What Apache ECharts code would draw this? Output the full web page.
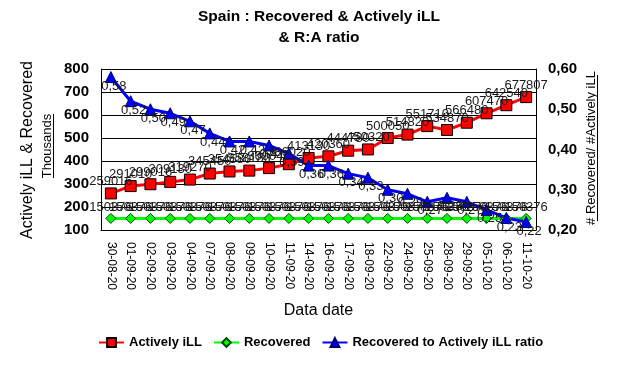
<!DOCTYPE html>
<html><head><meta charset="utf-8">
<script src="https://cdn.jsdelivr.net/npm/echarts@6/dist/echarts.min.js"></script>
<style>html,body{margin:0;padding:0;background:#fff}#c{width:625px;height:372px}</style>
</head><body><div id="c"></div>
<script>
const dates = ['30-08-20','01-09-20','02-09-20','03-09-20','04-09-20','07-09-20','08-09-20','09-09-20','10-09-20','11-09-20','14-09-20','16-09-20','17-09-20','18-09-20','22-09-20','24-09-20','25-09-20','28-09-20','29-09-20','05-10-20','06-10-20','11-10-20'];
const activelyIll = [259016, 291010, 299016, 309130, 319270, 345450, 354580, 358180, 369040, 386020, 413130, 420360, 444780, 450320, 500050, 514820, 551710, 534870, 566480, 607470, 642540, 677807];
const recovered = [150376,150376,150376,150376,150376,150376,150376,150376,150376,150376,150376,150376,150376,150376,150376,150376,150376,150376,150376,150376,150376,150376];
const ratio = [0.58, 0.52, 0.50, 0.49, 0.47, 0.44, 0.42, 0.42, 0.41, 0.39, 0.36, 0.36, 0.34, 0.33, 0.30, 0.29, 0.27, 0.28, 0.27, 0.25, 0.23, 0.22];
const leftMin = 100000, leftMax = 800000, leftStep = 100000;
const rightMin = 0.2, rightMax = 0.6, rightStep = 0.1;

const FF = 'Liberation Sans, Arial, Helvetica, sans-serif';
const chart = echarts.init(document.getElementById('c'), null, {renderer: 'canvas'});
const lblStyle = {fontFamily: FF, fontSize: 13, color: '#1a1a1a'};
chart.setOption({
  animation: false,
  backgroundColor: '#fff',
  graphic: [
    {type: 'text', x: 319, y: 17,
      style: {text: 'Spain : Recovered & Actively iLL', fontFamily: FF, fontSize: 15.5, fontWeight: 'bold', fill: '#000', align: 'center', verticalAlign: 'middle'}},
    {type: 'text', x: 319, y: 38,
      style: {text: '& R:A ratio', fontFamily: FF, fontSize: 15.5, fontWeight: 'bold', fill: '#000', align: 'center', verticalAlign: 'middle'}},
    {type: 'text', x: 28, y: 150, rotation: Math.PI / 2,
      style: {text: 'Actively iLL & Recovered', fontFamily: FF, fontSize: 16, fill: '#000', align: 'center', verticalAlign: 'middle'}},
    {type: 'text', x: 47, y: 146, rotation: Math.PI / 2,
      style: {text: 'Thousands', fontFamily: FF, fontSize: 13, fill: '#000', align: 'center', verticalAlign: 'middle'}},
    {type: 'line', shape: {x1: 53.5, y1: 114, x2: 53.5, y2: 178}, style: {stroke: '#000', lineWidth: 1}},
    {type: 'text', x: 591, y: 148, rotation: Math.PI / 2,
      style: {text: '# Recovered/ #Actively iLL', fontFamily: FF, fontSize: 13, fill: '#000', align: 'center', verticalAlign: 'middle'}},
    {type: 'line', shape: {x1: 597.5, y1: 75, x2: 597.5, y2: 221}, style: {stroke: '#000', lineWidth: 1}}
  ],
  grid: {left: 101, right: 89, top: 69, bottom: 142, containLabel: false},
  legend: {
    left: 93, top: 331, itemWidth: 25, itemHeight: 11, itemGap: 11,
    textStyle: {fontFamily: FF, fontSize: 13, fontWeight: 'bold', color: '#000'},
    data: ['Actively iLL', 'Recovered', 'Recovered to Actively iLL ratio']
  },
  xAxis: {
    type: 'category', data: dates, boundaryGap: true,
    axisLine: {lineStyle: {color: '#000', width: 1}},
    axisTick: {show: false},
    axisLabel: {rotate: -90, interval: 0, margin: 12, fontFamily: FF, fontSize: 12, color: '#000'},
    name: 'Data date', nameLocation: 'middle', nameGap: 73,
    nameTextStyle: {fontFamily: FF, fontSize: 16, color: '#000'}
  },
  yAxis: [{
    type: 'value', min: leftMin, max: leftMax, interval: leftStep,
    axisLine: {show: true, lineStyle: {color: '#000'}},
    axisTick: {show: false},
    splitLine: {show: true, lineStyle: {color: '#000', width: 1}},
    axisLabel: {margin: 12, fontFamily: FF, fontSize: 15, fontWeight: 'bold', color: '#000',
      formatter: v => String(Math.round(v / 1000))}
  }, {
    type: 'value', min: rightMin, max: rightMax, interval: rightStep, position: 'right',
    axisLine: {show: true, lineStyle: {color: '#000'}},
    axisTick: {show: false},
    splitLine: {show: false},
    axisLabel: {margin: 12, fontFamily: FF, fontSize: 15, fontWeight: 'bold', color: '#000',
      formatter: v => v.toFixed(2).replace('.', ',')}
  }],
  series: [{
    name: 'Actively iLL', type: 'line', yAxisIndex: 0, data: activelyIll,
    symbol: 'rect', symbolSize: 11,
    lineStyle: {color: '#ff0000', width: 3},
    itemStyle: {color: '#ff0000', borderColor: '#000', borderWidth: 1},
    label: {show: true, position: 'inside', offset: [0, -12], ...lblStyle, formatter: p => String(p.value)}
  }, {
    name: 'Recovered', type: 'line', yAxisIndex: 0, data: recovered,
    symbol: 'diamond', symbolSize: 10,
    lineStyle: {color: '#00ff00', width: 3},
    itemStyle: {color: '#00ff00', borderColor: '#004400', borderWidth: 1},
    label: {show: true, position: 'inside', offset: [0, -11], ...lblStyle, formatter: p => String(p.value)}
  }, {
    name: 'Recovered to Actively iLL ratio', type: 'line', yAxisIndex: 1, data: ratio,
    symbol: 'triangle', symbolSize: 11,
    lineStyle: {color: '#0000ff', width: 3},
    itemStyle: {color: '#0000ff', borderColor: '#000066', borderWidth: 1},
    label: {show: true, position: 'inside', offset: [3, 9], ...lblStyle, formatter: p => p.value.toFixed(2).replace('.', ',')}
  }]
});
</script></body></html>
